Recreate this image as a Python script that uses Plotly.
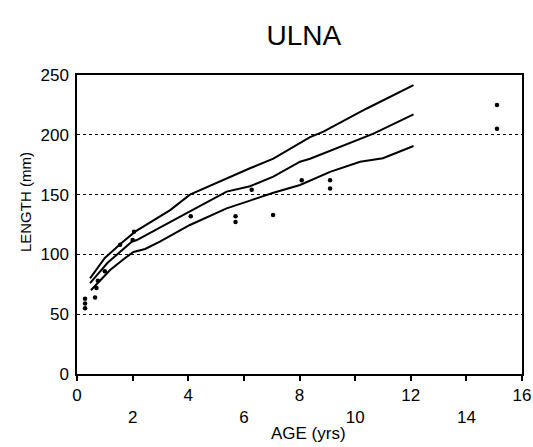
import plotly.graph_objects as go

# Observed data points (age in years, ulna length in mm)
pts_age = [0.29, 0.29, 0.29, 0.65, 0.7, 0.75, 1.0, 1.55, 2.0, 2.05,
           4.09, 5.7, 5.7, 6.28, 7.05, 8.08, 9.1, 9.1, 15.1, 15.1]
pts_len = [63, 59, 55, 64, 72, 78, 86, 108, 112, 119,
           132, 132, 127, 154, 133, 162, 162, 155, 225, 205]

# Growth curves
upper_age = [0.47, 1.0, 1.6, 2.09, 3.35, 4.06, 6.22, 7.06, 8.38, 8.86, 10.42, 12.1]
upper_len = [80, 97, 109.5, 119, 137, 150, 172, 180, 198, 202.6, 222, 241.6]

mid_age = [0.47, 1.1, 1.97, 2.15, 4.06, 5.38, 6.22, 7.06, 8.02, 8.38, 10.66, 12.1]
mid_len = [76, 93, 110.6, 112, 136, 152.5, 157, 165, 177.5, 180, 201, 217]

lower_age = [0.5, 1.19, 1.73, 2.03, 2.45, 2.98, 4.06, 5.38, 6.22, 7.06, 8.02, 8.38, 9.1, 10.18, 11.0, 12.1]
lower_len = [70, 87, 97, 102, 104.5, 110.6, 124.6, 138.5, 145, 151.6, 158, 161.6, 169, 177.5, 180.4, 190.6]

x_ticks = [0, 2, 4, 6, 8, 10, 12, 14, 16]
y_ticks = [0, 50, 100, 150, 200, 250]

FONT = "Liberation Sans"

fig = go.Figure()
for xs, ys in [(upper_age, upper_len), (mid_age, mid_len), (lower_age, lower_len)]:
    fig.add_trace(go.Scatter(x=xs, y=ys, mode="lines",
                             line=dict(color="black", width=2),
                             showlegend=False, hoverinfo="skip"))
fig.add_trace(go.Scatter(x=pts_age, y=pts_len, mode="markers",
                         marker=dict(color="black", size=4.5),
                         showlegend=False))

ticktext = [str(v) if i % 2 == 0 else "<br>" + str(v) for i, v in enumerate(x_ticks)]

fig.update_layout(
    width=533, height=447,
    margin=dict(l=77, r=11, t=75, b=73),
    paper_bgcolor="white", plot_bgcolor="white",
    font=dict(family=FONT, color="black", size=17),
    showlegend=False,
    title=dict(text="ULNA", x=0.570, xanchor="center", y=0.922, yanchor="middle",
               font=dict(family=FONT, size=28, color="black")),
    xaxis=dict(range=[0, 16], tickvals=x_ticks, ticktext=ticktext,
               ticks="outside", ticklen=5, tickcolor="black", tickwidth=1.5,
               showline=True, linecolor="black", linewidth=1.5, mirror=True,
               showgrid=False, zeroline=False, automargin=False,
               ticklabeloverflow="allow",
               tickfont=dict(size=17)),
    yaxis=dict(range=[0, 250], tickvals=y_ticks,
               showline=True, linecolor="black", linewidth=1.5, mirror=True,
               showgrid=True, gridcolor="black", gridwidth=1, griddash="dot",
               zeroline=False, ticks="", ticklabelstandoff=3, automargin=False,
               tickfont=dict(size=17)),
)

fig.add_annotation(text="LENGTH (mm)", xref="paper", yref="paper",
                   x=0, y=0.575, xshift=-52, xanchor="center", yanchor="middle",
                   textangle=-90, showarrow=False,
                   font=dict(family=FONT, size=15, color="black"))

fig.add_annotation(text="AGE (yrs)", xref="paper", yref="paper",
                   x=0.52, y=0, yshift=-59, xanchor="center", yanchor="middle",
                   showarrow=False, font=dict(family=FONT, size=17, color="black"))

fig.write_html(
    "out.html",
    config={"displayModeBar": False},
    post_script="document.body.style.margin='0px';"
                "document.documentElement.style.overflow='hidden';",
)
